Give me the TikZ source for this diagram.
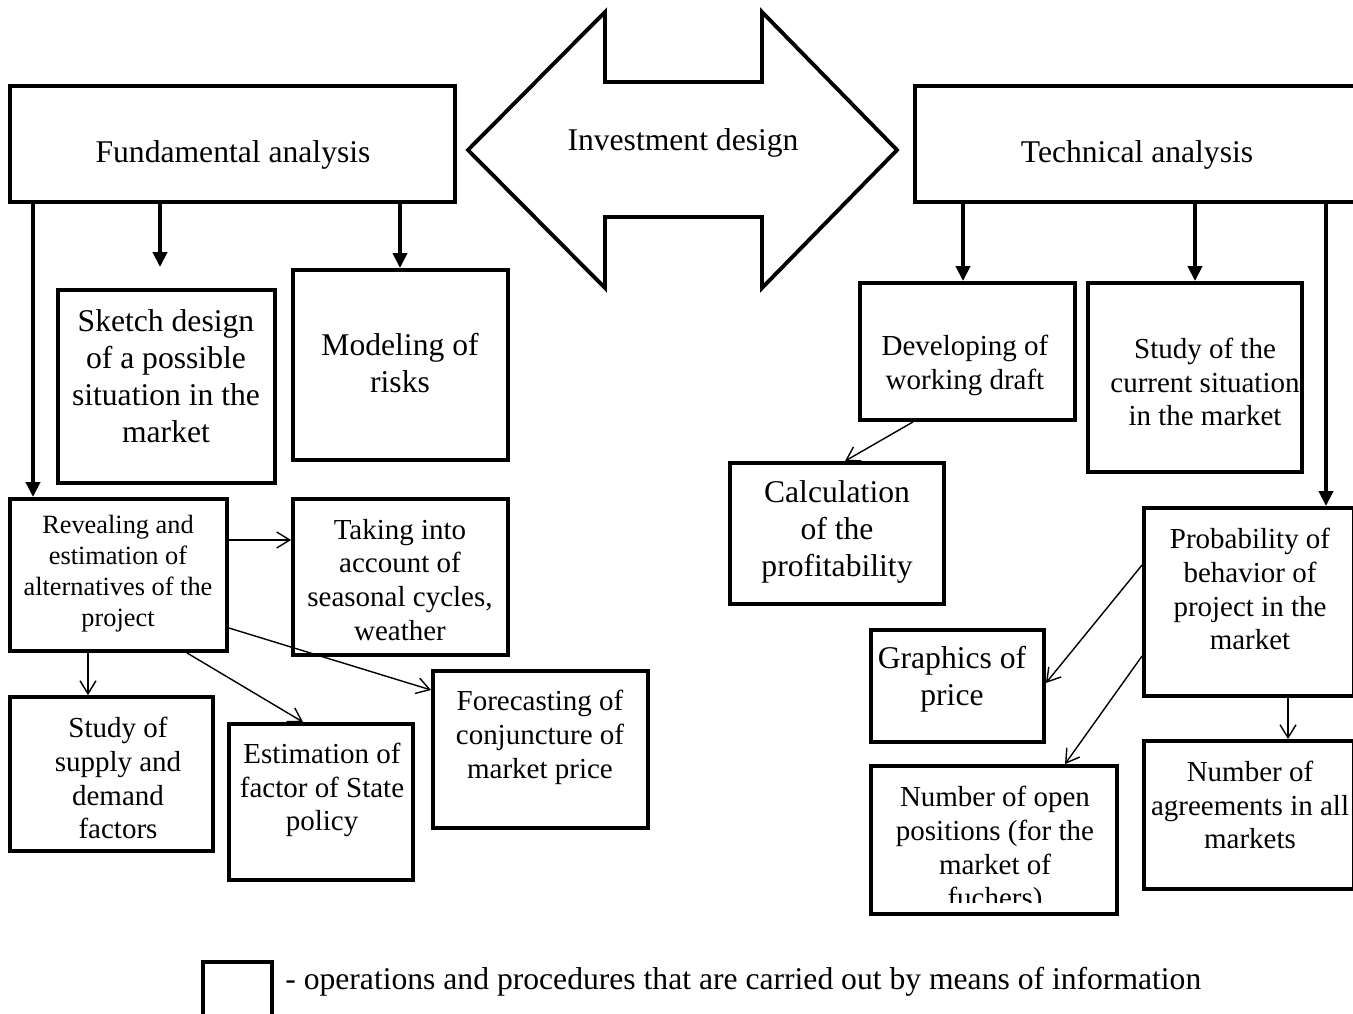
\documentclass[tikz,border=0pt]{standalone}
\usepackage{fontspec}
\setmainfont{Liberation Serif}
\usetikzlibrary{positioning,arrows.meta,fit}

\newcommand\bigsize{\fontsize{18}{21}\selectfont}
\newcommand\midsize{\fontsize{16.5}{19.3}\selectfont}
\newcommand\smallsize{\fontsize{15}{17.6}\selectfont}

\begin{document}
\begin{tikzpicture}[
        x=0.02cm, y=-0.02cm,
        box/.style={
            draw,
            line width=2.2pt,
            inner sep=0pt
        },
        txt/.style={
            align=center,
            inner sep=0pt,
            font=\midsize
        },
        bigtxt/.style={txt, font=\bigsize},
        smalltxt/.style={txt, font=\smallsize},
        flow/.style={
            -{Triangle[length=3mm,width=2.8mm]},
            line width=2.2pt
        },
        arrow/.style={
            -{Straight Barb[length=2.6mm,width=3.2mm]},
            line width=0.8pt
        }
    ]
    \clip (0,0) rectangle (1353,1014);

    % Investment design
    \draw[line width=2.2pt] (468,150) -- (605,12) -- (605,82) -- (762,82) -- (762,12)
        -- (897,150) -- (762,288) -- (762,217) -- (605,217) -- (605,288) -- cycle;
    \node[bigtxt] (design) at (683,143) {Investment design};

    % Fundamental analysis
    \node[box, fit={(10,86) (455,202)}] (fund) {};
    \node[bigtxt] (fund-t) at (233,155) {Fundamental analysis};

    \node[box, fit={(58,290) (275,483)}] (sketch) {};
    \node[bigtxt] (sketch-t) at (166,376) {Sketch design\\of a possible\\situation in the\\market};
    \node[box, fit={(293,270) (508,460)}] (model) {};
    \node[bigtxt] (model-t) at (400,363) {Modeling of\\risks};

    \node[box, fit={(10,499) (227,651)}] (rev) {};
    \node[smalltxt] (rev-t) at (118,574) {Revealing and\\estimation of\\alternatives of the\\project};
    \node[box, fit={(293,499) (508,655)}] (take) {};
    \node[txt] (take-t) at (400,580) {Taking into\\account of\\seasonal cycles,\\weather};
    \node[box, fit={(10,697) (213,851)}] (supply) {};
    \node[txt] (supply-t) at (118,778) {Study of\\supply and\\demand\\factors};
    \node[box, fit={(229,724) (413,880)}] (state) {};
    \node[txt] (state-t) at (322,790) {Estimation of\\factor of State\\policy};
    \node[box, fit={(433,671) (648,828)}] (fore) {};
    \node[txt] (fore-t) at (540,737) {Forecasting of\\conjuncture of\\market price};

    % Technical analysis
    \node[box, fit={(915,86) (1362,202)}] (tech) {};
    \node[bigtxt] (tech-t) at (1137,155) {Technical analysis};

    \node[box, fit={(860,283) (1075,420)}] (dev) {};
    \node[txt] (dev-t) at (965,365) {Developing of\\working draft};
    \node[box, fit={(1088,283) (1302,472)}] (cur) {};
    \node[txt] (cur-t) at (1205,382) {Study of the\\current situation\\in the market};
    \node[box, fit={(730,463) (944,604)}] (calc) {};
    \node[bigtxt] (calc-t) at (837,532) {Calculation\\of the\\profitability};

    \node[box, fit={(1144,508) (1354,696)}] (prob) {};
    \node[txt] (prob-t) at (1250,589) {Probability of\\behavior of\\project in the\\market};
    \node[box, fit={(871,630) (1044,742)}] (graph) {};
    \node[bigtxt] (graph-t) at (952,679) {Graphics of\\price};
    \node[box, fit={(871,766) (1117,914)}] (open) {};
    \begin{scope}
        \clip (873,768) rectangle (1115,902);
        \node[txt] (open-t) at (995,850) {Number of open\\positions (for the\\market of\\fuchers)};
    \end{scope}
    \node[box, fit={(1144,741) (1354,889)}] (agree) {};
    \node[txt] (agree-t) at (1250,805) {Number of\\agreements in all\\markets};

    % Connections from the two analyses
    \draw[flow] (fund.south -| 33,0) -- (rev.north -| 33,0);
    \draw[flow, shorten >=0.42cm] (fund.south -| 160,0) -- (sketch.north -| 160,0);
    \draw[flow] (fund.south -| 400,0) -- (model.north -| 400,0);
    \draw[flow] (tech.south -| 963,0) -- (dev.north -| 963,0);
    \draw[flow] (tech.south -| 1195,0) -- (cur.north -| 1195,0);
    \draw[flow] (tech.south -| 1326,0) -- (prob.north -| 1326,0);

    % Thin connections
    \draw[arrow] (rev.east |- 0,540) -- (take.west |- 0,540);
    \draw[arrow] (rev.east |- 0,628) -- (fore.west |- 0,690);
    \draw[arrow] (rev.south -| 187,0) -- (state.north -| 303,0);
    \draw[arrow] (rev.south -| 88,0) -- (supply.north -| 88,0);
    \draw[arrow] (dev.south -| 913,0) -- (calc.north -| 845,0);
    \draw[arrow] (prob.west |- 0,565) -- (graph.east |- 0,683);
    \draw[arrow] (prob.west |- 0,656) -- (open.north -| 1065,0);
    \draw[arrow] (prob.south -| 1288,0) -- (agree.north -| 1288,0);

    % Legend
    \node[box, fit={(203,962) (272,1030)}] (legend) {};
    \node[bigtxt, anchor=west] (legend-t) at (285,982) {- operations and procedures that are carried out by means of information};

\end{tikzpicture}
\end{document}
